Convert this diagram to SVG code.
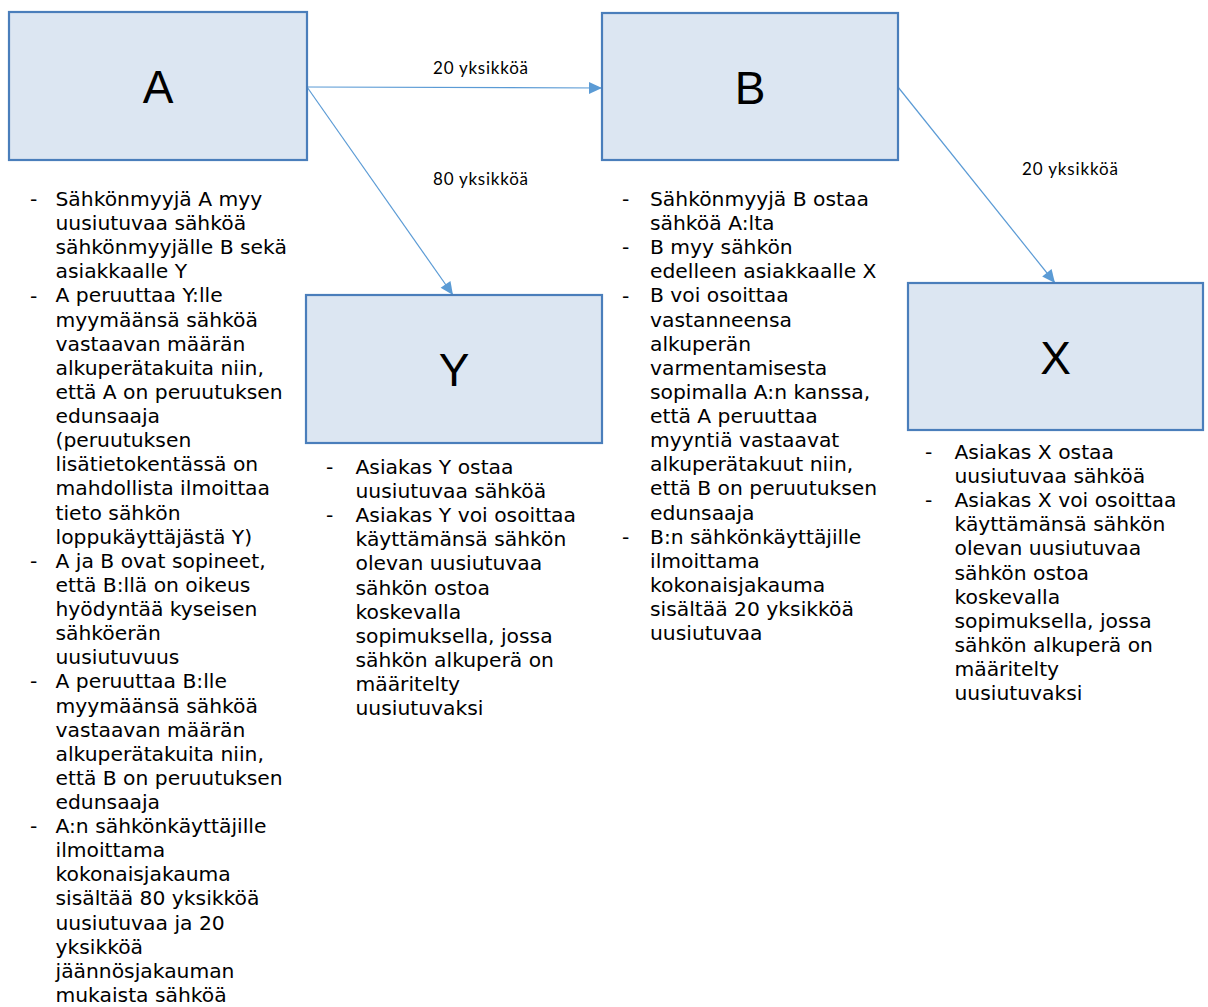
<svg xmlns="http://www.w3.org/2000/svg" width="1208" height="1007" viewBox="0 0 1208 1007">
<style>
.box{fill:#dce6f2;stroke:#4a7ebb;stroke-width:2.2}
.title{font-family:"Liberation Sans",Arial,sans-serif;font-size:46px;fill:#000;text-anchor:middle}
.body{font-family:"DejaVu Sans",Verdana,sans-serif;font-size:20.3px;fill:#000}
.lbl{font-family:Lato,"Open Sans",sans-serif;font-size:17px;fill:#000}
.conn{stroke:#5b9bd5;stroke-width:1.2;fill:none;marker-end:url(#arr)}
</style>
<defs>
<marker id="arr" markerUnits="userSpaceOnUse" markerWidth="15" markerHeight="13" viewBox="0 0 15 13" refX="14" refY="6.5" orient="auto">
<path d="M1,0.5 L14,6.5 L1,12.5 Z" fill="#5b9bd5"/>
</marker>
</defs>
<rect width="1208" height="1007" fill="#fff"/>
<g id="connectors">
<line class="conn" x1="307" y1="87" x2="602" y2="88"/>
<line class="conn" x1="307" y1="87" x2="453" y2="295"/>
<line class="conn" x1="898" y1="87" x2="1055" y2="283"/>
<text class="lbl" x="433" y="74" textLength="95" lengthAdjust="spacing">20 yksikköä</text>
<text class="lbl" x="433" y="185" textLength="95" lengthAdjust="spacing">80 yksikköä</text>
<text class="lbl" x="1022" y="175" textLength="96" lengthAdjust="spacing">20 yksikköä</text>
</g>
<g id="node-A">
<rect class="box" x="9" y="12" width="298" height="148"/>
<text class="title" x="158" y="103">A</text>
<g class="body">
<text x="30" y="206">-</text>
<text x="30" y="302.5">-</text>
<text x="30" y="567.8">-</text>
<text x="30" y="688.4">-</text>
<text x="30" y="833.1">-</text>
<text x="55.5" y="206"><tspan x="55.5">Sähkönmyyjä A myy</tspan><tspan x="55.5" dy="24.12">uusiutuvaa sähköä</tspan><tspan x="55.5" dy="24.12">sähkönmyyjälle B sekä</tspan><tspan x="55.5" dy="24.12">asiakkaalle Y</tspan><tspan x="55.5" dy="24.12">A peruuttaa Y:lle</tspan><tspan x="55.5" dy="24.12">myymäänsä sähköä</tspan><tspan x="55.5" dy="24.12">vastaavan määrän</tspan><tspan x="55.5" dy="24.12">alkuperätakuita niin,</tspan><tspan x="55.5" dy="24.12">että A on peruutuksen</tspan><tspan x="55.5" dy="24.12">edunsaaja</tspan><tspan x="55.5" dy="24.12">(peruutuksen</tspan><tspan x="55.5" dy="24.12">lisätietokentässä on</tspan><tspan x="55.5" dy="24.12">mahdollista ilmoittaa</tspan><tspan x="55.5" dy="24.12">tieto sähkön</tspan><tspan x="55.5" dy="24.12">loppukäyttäjästä Y)</tspan><tspan x="55.5" dy="24.12">A ja B ovat sopineet,</tspan><tspan x="55.5" dy="24.12">että B:llä on oikeus</tspan><tspan x="55.5" dy="24.12">hyödyntää kyseisen</tspan><tspan x="55.5" dy="24.12">sähköerän</tspan><tspan x="55.5" dy="24.12">uusiutuvuus</tspan><tspan x="55.5" dy="24.12">A peruuttaa B:lle</tspan><tspan x="55.5" dy="24.12">myymäänsä sähköä</tspan><tspan x="55.5" dy="24.12">vastaavan määrän</tspan><tspan x="55.5" dy="24.12">alkuperätakuita niin,</tspan><tspan x="55.5" dy="24.12">että B on peruutuksen</tspan><tspan x="55.5" dy="24.12">edunsaaja</tspan><tspan x="55.5" dy="24.12">A:n sähkönkäyttäjille</tspan><tspan x="55.5" dy="24.12">ilmoittama</tspan><tspan x="55.5" dy="24.12">kokonaisjakauma</tspan><tspan x="55.5" dy="24.12">sisältää 80 yksikköä</tspan><tspan x="55.5" dy="24.12">uusiutuvaa ja 20</tspan><tspan x="55.5" dy="24.12">yksikköä</tspan><tspan x="55.5" dy="24.12">jäännösjakauman</tspan><tspan x="55.5" dy="24.12">mukaista sähköä</tspan></text>
</g>
</g>
<g id="node-B">
<rect class="box" x="602" y="13" width="296" height="147"/>
<text class="title" x="750" y="103.5">B</text>
<g class="body">
<text x="622" y="206">-</text>
<text x="622" y="254.2">-</text>
<text x="622" y="302.5">-</text>
<text x="622" y="543.7">-</text>
<text x="650" y="206"><tspan x="650">Sähkönmyyjä B ostaa</tspan><tspan x="650" dy="24.12">sähköä A:lta</tspan><tspan x="650" dy="24.12">B myy sähkön</tspan><tspan x="650" dy="24.12">edelleen asiakkaalle X</tspan><tspan x="650" dy="24.12">B voi osoittaa</tspan><tspan x="650" dy="24.12">vastanneensa</tspan><tspan x="650" dy="24.12">alkuperän</tspan><tspan x="650" dy="24.12">varmentamisesta</tspan><tspan x="650" dy="24.12">sopimalla A:n kanssa,</tspan><tspan x="650" dy="24.12">että A peruuttaa</tspan><tspan x="650" dy="24.12">myyntiä vastaavat</tspan><tspan x="650" dy="24.12">alkuperätakuut niin,</tspan><tspan x="650" dy="24.12">että B on peruutuksen</tspan><tspan x="650" dy="24.12">edunsaaja</tspan><tspan x="650" dy="24.12">B:n sähkönkäyttäjille</tspan><tspan x="650" dy="24.12">ilmoittama</tspan><tspan x="650" dy="24.12">kokonaisjakauma</tspan><tspan x="650" dy="24.12">sisältää 20 yksikköä</tspan><tspan x="650" dy="24.12">uusiutuvaa</tspan></text>
</g>
</g>
<g id="node-Y">
<rect class="box" x="306" y="295" width="296" height="148"/>
<text class="title" x="454" y="386">Y</text>
<g class="body">
<text x="326" y="474">-</text>
<text x="326" y="522.2">-</text>
<text x="355.5" y="474"><tspan x="355.5">Asiakas Y ostaa</tspan><tspan x="355.5" dy="24.1">uusiutuvaa sähköä</tspan><tspan x="355.5" dy="24.1">Asiakas Y voi osoittaa</tspan><tspan x="355.5" dy="24.1">käyttämänsä sähkön</tspan><tspan x="355.5" dy="24.1">olevan uusiutuvaa</tspan><tspan x="355.5" dy="24.1">sähkön ostoa</tspan><tspan x="355.5" dy="24.1">koskevalla</tspan><tspan x="355.5" dy="24.1">sopimuksella, jossa</tspan><tspan x="355.5" dy="24.1">sähkön alkuperä on</tspan><tspan x="355.5" dy="24.1">määritelty</tspan><tspan x="355.5" dy="24.1">uusiutuvaksi</tspan></text>
</g>
</g>
<g id="node-X">
<rect class="box" x="908" y="283" width="295" height="147"/>
<text class="title" x="1055.5" y="374">X</text>
<g class="body">
<text x="925" y="459">-</text>
<text x="925" y="507.2">-</text>
<text x="954.5" y="459"><tspan x="954.5">Asiakas X ostaa</tspan><tspan x="954.5" dy="24.1">uusiutuvaa sähköä</tspan><tspan x="954.5" dy="24.1">Asiakas X voi osoittaa</tspan><tspan x="954.5" dy="24.1">käyttämänsä sähkön</tspan><tspan x="954.5" dy="24.1">olevan uusiutuvaa</tspan><tspan x="954.5" dy="24.1">sähkön ostoa</tspan><tspan x="954.5" dy="24.1">koskevalla</tspan><tspan x="954.5" dy="24.1">sopimuksella, jossa</tspan><tspan x="954.5" dy="24.1">sähkön alkuperä on</tspan><tspan x="954.5" dy="24.1">määritelty</tspan><tspan x="954.5" dy="24.1">uusiutuvaksi</tspan></text>
</g>
</g>
</svg>
